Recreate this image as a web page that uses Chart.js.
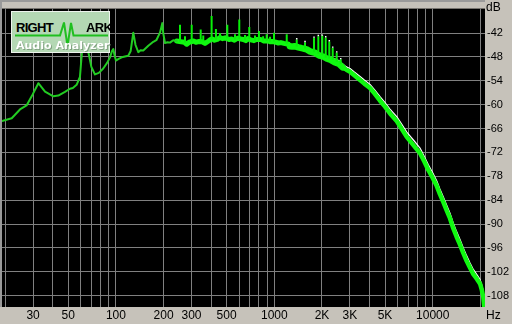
<!DOCTYPE html>
<html>
<head>
<meta charset="utf-8">
<script src="https://cdn.jsdelivr.net/npm/chart.js@4.4.1/dist/chart.umd.min.js"></script>
<style>
  html, body { margin: 0; padding: 0; background: #c6c2ba; }
  #wrap { position: relative; width: 512px; height: 324px; overflow: hidden; }
  canvas { display: block; }
  #logo {
    position: absolute; left: 11px; top: 11px; width: 99px; height: 42px;
    box-sizing: border-box; border: 1px solid #eef4ee; background: #b4d8b4;
  }
  #logo span { position: absolute; line-height: 12px; white-space: nowrap; }
  .brand { font: bold 13px "Liberation Sans", Arial, sans-serif; color: #000; letter-spacing: -0.7px; }
  .sub { font: bold 11px "DejaVu Sans", sans-serif; color: #fff; text-shadow: 1px 1px 0 #80a080; }
  #logo svg { position: absolute; left: 0; top: 0; }
</style>
</head>
<body>
<div id="wrap">
  <canvas id="rmaa" width="512" height="324"></canvas>
  <div id="logo">
    <svg width="97" height="40"><polyline points="3,23.5 48,23.5 52,10.5 55.5,34 59,11 61.5,23.5 96,23.5" fill="none" stroke="#1fbf1f" stroke-width="2"/></svg>
    <span class="brand" style="left:4px;top:10px">RIGHT</span>
    <span class="brand" style="left:74px;top:10px">ARK</span>
    <span class="sub" style="left:4px;top:28px">Audio Analyzer</span>
  </div>
</div>
<script>
// spectrum, low part (thin trace)
const lowHz = [19.1, 22.0, 24.8, 27.3, 29.4, 32.4, 35.7, 40.3, 43.3, 47.7, 51.3, 53.5, 56.5, 59.3, 60.8, 62.5, 63.8, 65.0, 67.0, 70.0,
  73.8, 78.0, 83.2, 88.0, 91.8, 94.5, 96.3, 98.0, 100.1, 104.0, 108.8, 114.0, 119.7, 124.0, 128.8, 133.0, 138.5, 143.0, 148.9, 160.2,
  172.2, 180.0, 189.8, 196.3, 199.0, 204.2, 212.0, 219.6, 230.0, 242.0];
const lowDb = [-64.1, -63.4, -61.2, -60.2, -57.9, -54.6, -56.7, -57.9, -57.7, -56.8, -56.0, -55.8, -55.0, -53.0, -47.7, -42.0, -40.7, -42.5, -46.8, -50.5,
  -52.4, -52.0, -50.9, -49.5, -48.1, -46.5, -46.0, -47.5, -48.9, -48.5, -48.1, -47.9, -47.7, -46.5, -41.9, -45.0, -46.8, -46.3, -46.4, -45.2,
  -44.2, -43.8, -41.9, -39.5, -42.0, -44.5, -44.3, -44.4, -43.8, -44.0];

// noisy band (body of the trace) from 240 Hz up
const bandHz = [242, 258, 270, 280, 290, 309, 320, 336, 350, 365, 385, 396, 408, 420, 436, 454, 470, 490, 518, 538,
  560, 585, 615, 637, 660, 680, 710, 744, 770, 815, 833, 860, 915, 940, 970, 1020, 1060, 1100, 1150, 1225,
  1256, 1300, 1340, 1420, 1489, 1530, 1600, 1680, 1740, 1815, 1852, 1940, 2060, 2142, 2190, 2280, 2400, 2550, 2700, 2850,
  3006, 3200, 3477, 3700, 4020, 4300, 4650, 5000, 5375, 5926, 6400, 6855, 7600, 8318, 8850, 9383, 10000, 10595, 11100, 11670,
  12250, 12860, 13490, 14150, 14870, 15600, 16390, 17200, 18040, 19000, 19890, 20400, 20850, 21300];
const bandDb = [-44.0, -44.2, -44.3, -44.8, -44.3, -44.0, -44.3, -44.1, -44.2, -44.6, -44.0, -43.6, -43.5, -43.8, -43.6, -43.1, -43.4, -43.2, -43.6, -43.5,
  -43.8, -43.3, -43.5, -43.6, -43.9, -43.4, -43.7, -43.9, -43.6, -43.6, -43.7, -44.0, -44.0, -44.2, -44.1, -44.3, -44.5, -44.4, -44.6, -44.8,
  -45.3, -45.4, -45.3, -45.6, -45.8, -45.9, -46.1, -46.6, -46.8, -47.0, -47.3, -47.7, -48.0, -48.4, -48.5, -48.8, -49.3, -49.7, -50.6, -51.2,
  -51.7, -52.6, -53.8, -54.7, -55.8, -57.2, -59.0, -60.5, -62.2, -64.1, -66.2, -68.1, -70.3, -72.2, -74.3, -76.4, -78.4, -80.4, -82.5, -84.5,
  -86.6, -88.6, -91.1, -93.2, -95.2, -97.3, -99.3, -101.0, -102.6, -103.8, -105.0, -106.5, -108.3, -112.0];

// harmonic spikes sticking out of the band: foot and top level
const spikeHz = [254, 273, 301, 343, 356, 402, 428, 454, 505, 565, 601, 653, 695, 755, 800, 850, 895, 940, 996, 1198,
  1385, 1563, 1781, 1896, 2009, 2111, 2224, 2337, 2477, 2626];
const spikeBaseDb = [-44.2, -44.4, -44.1, -44.2, -44.2, -43.6, -43.7, -43.2, -43.3, -43.6, -43.5, -43.8, -43.5, -43.9, -43.7, -43.9, -44.0, -44.2, -44.2, -44.7,
  -45.4, -45.9, -46.8, -47.2, -47.6, -48.2, -48.4, -48.8, -49.2, -49.8];
const spikeTopDb = [-39.9, -42.8, -39.9, -41.1, -42.6, -37.7, -41.0, -42.0, -39.9, -42.3, -38.6, -42.5, -40.5, -42.6, -41.5, -42.8, -42.3, -42.9, -41.9, -42.3,
  -43.6, -44.3, -43.2, -42.8, -42.7, -43.1, -44.1, -45.7, -46.9, -48.6];

// second channel, seen as the white upper edge
const edgeHz = [2400, 2550, 2700, 2850, 3006, 3200, 3477, 3700, 4020, 4300, 4650, 5000, 5375, 5926, 6400, 6855, 7600, 8318,
  8850, 9383, 10000, 10595, 11100, 11670, 12250, 12860, 13490, 14150, 14870, 15600, 16390, 17200, 18040, 19000, 19890, 20400, 20850, 21300];
const edgeDb = [-48.5, -48.9, -49.8, -50.5, -50.9, -51.8, -52.9, -53.8, -54.9, -56.3, -58.0, -59.5, -61.1, -63.0, -65.0, -66.9, -69.0, -70.9,
  -73.0, -75.1, -77.1, -79.1, -81.2, -83.2, -85.3, -87.3, -89.8, -91.9, -93.9, -96.0, -98.0, -99.8, -101.4, -102.7, -103.9, -105.3, -107.0, -111.0];

const gridHz = [20, 30, 40, 50, 60, 70, 80, 90, 100, 200, 300, 400, 500, 600, 700, 800, 900,
  1000, 2000, 3000, 4000, 5000, 6000, 7000, 8000, 9000, 10000, 20000];
const labelHz = { 30: '30', 50: '50', 100: '100', 200: '200', 300: '300', 500: '500', 1000: '1000',
  2000: '2K', 3000: '3K', 5000: '5K', 10000: '10000' };
const dbTicks = [-42, -48, -54, -60, -66, -72, -78, -84, -90, -96, -102, -108];

const pts = (xs, ys) => xs.map((x, i) => ({ x: x, y: ys[i] }));
// each spike is a short vertical stroke, broken from the next by a gap
const spikes = spikeHz.flatMap((f, i) => [{ x: f, y: spikeBaseDb[i] }, { x: f, y: spikeTopDb[i] }, { x: f, y: null }]);
const tips = spikeHz.flatMap((f, i) => f < 1300 ? [] : [{ x: f, y: spikeTopDb[i] }, { x: f, y: spikeTopDb[i] + 0.35 }, { x: f, y: null }]);

const frame = {
  id: 'frame',
  beforeDraw(chart) {
    const { ctx, chartArea: a } = chart;
    ctx.save();
    ctx.fillStyle = '#000';
    ctx.fillRect(a.left, a.top, a.right - a.left, a.bottom - a.top);
    ctx.fillStyle = '#9a9a9a';
    ctx.fillRect(0, 0, a.right, 2);
    ctx.fillRect(0, 0, 2, a.bottom);
    ctx.restore();
  },
  afterDraw(chart) {
    const { ctx } = chart;
    ctx.save();
    ctx.fillStyle = '#000';
    ctx.font = '12px "Liberation Sans", Arial, sans-serif';
    ctx.textAlign = 'left';
    ctx.textBaseline = 'middle';
    ctx.fillText('dB', 486, 8);
    ctx.fillText('Hz', 486, 316);
    ctx.restore();
  }
};

new Chart(document.getElementById('rmaa'), {
  type: 'line',
  data: {
    datasets: [
      { data: tips, borderColor: '#ffffff', borderWidth: 1.5, borderCapStyle: 'butt', spanGaps: false, order: 0 },
      { data: spikes, borderColor: '#08f008', borderWidth: 2, borderCapStyle: 'butt', spanGaps: false, order: 1 },
      { data: pts(lowHz, lowDb), borderColor: '#22cc22', borderWidth: 2, order: 2 },
      {
        data: pts(bandHz, bandDb), borderColor: '#10f810', borderWidth: 4.5, order: 2,
        segment: { borderWidth: c => (c.p0.parsed.x >= 1250 && c.p1.parsed.x <= 2700) ? 6.5 : (c.p1.parsed.x <= 1250 ? 5 : 4.5) }
      },
      { data: pts(edgeHz, edgeDb), borderColor: '#ffffff', borderWidth: 1.2, order: 3 }
    ]
  },
  options: {
    responsive: false,
    animation: false,
    devicePixelRatio: 1,
    layout: { padding: { left: 2, top: 2, right: 0, bottom: 0 } },
    elements: {
      point: { radius: 0 },
      line: { tension: 0, borderCapStyle: 'round', borderJoinStyle: 'round', fill: false }
    },
    plugins: { legend: { display: false }, tooltip: { enabled: false } },
    scales: {
      x: {
        type: 'logarithmic',
        min: 19.1,
        max: 21380,
        afterBuildTicks: s => { s.ticks = gridHz.map(v => ({ value: v })); },
        afterFit: s => { s.height = 17; },
        grid: { color: '#808080', lineWidth: 1, drawTicks: false },
        border: { display: false },
        ticks: {
          autoSkip: false, maxRotation: 0, padding: 1, color: '#000',
          font: { family: '"Liberation Sans", Arial, sans-serif', size: 12 },
          callback: v => labelHz[v] || ''
        }
      },
      y: {
        position: 'right',
        min: -110.85,
        max: -35.85,
        afterBuildTicks: s => { s.ticks = dbTicks.map(v => ({ value: v })); },
        afterFit: s => { s.width = 27; },
        grid: { color: '#808080', lineWidth: 1, drawTicks: false },
        border: { display: false },
        ticks: {
          padding: 2, crossAlign: 'near', color: '#000',
          font: { family: '"Liberation Sans", Arial, sans-serif', size: 11 },
          callback: v => String(v)
        }
      }
    }
  },
  plugins: [frame]
});
</script>
</body>
</html>
